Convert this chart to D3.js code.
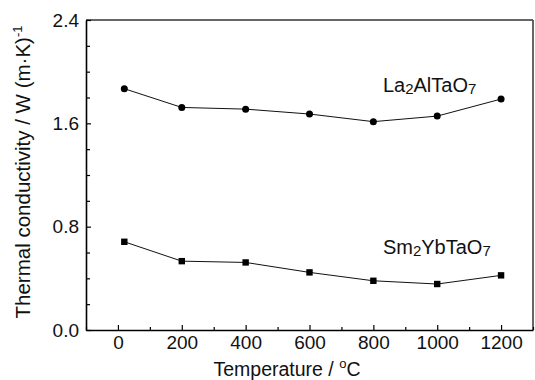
<!DOCTYPE html>
<html>
<head>
<meta charset="utf-8">
<script src="https://cdn.jsdelivr.net/npm/d3@7"></script>
<style>
    body { margin: 0; background: #fff; }
    text { font-family: "Liberation Sans", Arial, sans-serif; fill: #111; }
</style>
</head>
<body>
<script>
// temperatures (deg C) and thermal conductivity of the two ceramics
var temps = [20, 200, 400, 600, 800, 1000, 1200];
var la2AlTaO7 = [1.868, 1.723, 1.710, 1.672, 1.613, 1.656, 1.788];
var sm2YbTaO7 = [0.683, 0.533, 0.523, 0.446, 0.381, 0.356, 0.423];
var xTicks = [0, 200, 400, 600, 800, 1000, 1200];
var yTicks = [0.0, 0.8, 1.6, 2.4];

// plot box
var margin = {top: 20, right: 2, bottom: 50, left: 86},
    width = 535 - margin.left - margin.right,
    height = 380 - margin.top - margin.bottom;

var svg = d3.select("body").append("svg")
    .attr("width", 535)
    .attr("height", 380);

var g = svg.append("g")
    .attr("transform", "translate(" + margin.left + "," + margin.top + ")");

var xScale = d3.scaleLinear().domain([-100, 1300]).range([0, width]);
var yScale = d3.scaleLinear().domain([0, 2.4]).range([height, 0]);

// frame: top and right lines
g.append("line")
    .attr("x1", 0).attr("x2", width)
    .attr("y1", 0).attr("y2", 0)
    .attr("stroke", "#333").attr("stroke-width", 1.5);
g.append("line")
    .attr("x1", width).attr("x2", width)
    .attr("y1", 0).attr("y2", height)
    .attr("stroke", "#333").attr("stroke-width", 1.5);

// minor ticks (inward), no labels
var xAxisMinor = d3.axisBottom(xScale)
    .tickValues(d3.range(-100, 1301, 200))
    .tickSize(-3).tickFormat("");
var yAxisMinor = d3.axisLeft(yScale)
    .tickValues([0.2, 0.4, 0.6, 1.0, 1.2, 1.4, 1.8, 2.0, 2.2])
    .tickSize(-4).tickFormat("");

g.append("g")
    .attr("transform", "translate(0," + height + ")")
    .call(xAxisMinor)
    .call(function(s) { s.select(".domain").remove(); });
g.append("g")
    .call(yAxisMinor)
    .call(function(s) { s.select(".domain").remove(); });

// major ticks with labels
var yAxis = d3.axisLeft(yScale)
    .tickValues(yTicks)
    .tickSizeInner(-5).tickSizeOuter(0)
    .tickPadding(7)
    .tickFormat(d3.format(".1f"));
var xAxis = d3.axisBottom(xScale)
    .tickValues(xTicks)
    .tickSizeInner(-5).tickSizeOuter(0)
    .tickPadding(6)
    .tickFormat(d3.format("d"));

var gx = g.append("g")
    .attr("transform", "translate(0," + height + ")")
    .call(xAxis);
var gy = g.append("g")
    .call(yAxis);

[gx, gy].forEach(function(a) {
    a.select(".domain").attr("stroke", "#000").attr("stroke-width", 1.6);
    a.selectAll("text")
        .attr("font-size", "19px")
        .attr("font-family", "Liberation Sans, Arial, sans-serif")
        .attr("fill", "#111");
});
g.selectAll(".tick line").attr("stroke", "#000").attr("stroke-width", 1.2);

// lines and markers
var line = d3.line()
    .x(function(d, i) { return xScale(temps[i]); })
    .y(function(d) { return yScale(d); });

[la2AlTaO7, sm2YbTaO7].forEach(function(series) {
    g.append("path")
        .datum(series)
        .attr("d", line)
        .attr("fill", "none")
        .attr("stroke", "#111")
        .attr("stroke-width", 1);
});

g.selectAll("circle")
    .data(la2AlTaO7)
    .enter()
    .append("circle")
    .attr("cx", function(d, i) { return xScale(temps[i]); })
    .attr("cy", function(d) { return yScale(d); })
    .attr("r", 3.5)
    .attr("fill", "#000");

g.selectAll("rect.sq")
    .data(sm2YbTaO7)
    .enter()
    .append("rect")
    .attr("class", "sq")
    .attr("x", function(d, i) { return xScale(temps[i]) - 3.2; })
    .attr("y", function(d) { return yScale(d) - 3.2; })
    .attr("width", 6.4)
    .attr("height", 6.4)
    .attr("fill", "#000");

// series labels with subscripts
function formula(parts, x, y) {
    var t = g.append("text")
        .attr("x", x).attr("y", y)
        .attr("font-size", "20px");
    parts.forEach(function(p) {
        if (p.sub) {
            t.append("tspan").attr("font-size", "15px").attr("dy", 2).text(p.s);
        } else {
            t.append("tspan").attr("dy", p.after ? -2 : 0).text(p.s);
        }
    });
}
formula([{s: "La"}, {s: "2", sub: true}, {s: "AlTaO", after: true},
    {s: "7", sub: true}], xScale(830), yScale(1.839));
formula([{s: "Sm"}, {s: "2", sub: true}, {s: "YbTaO", after: true},
    {s: "7", sub: true}], xScale(830), yScale(0.586));

// axis titles
var xt = svg.append("text")
    .attr("x", 287)
    .attr("y", 376)
    .attr("text-anchor", "middle")
    .attr("font-size", "19.5px");
xt.append("tspan").text("Temperature / ");
xt.append("tspan").attr("font-size", "13px").attr("dy", -8).text("o");
xt.append("tspan").attr("dy", 8).text("C");

var yt = svg.append("text")
    .attr("transform", "translate(30,172) rotate(-90)")
    .attr("text-anchor", "middle")
    .attr("font-size", "20.5px");
yt.append("tspan").text("Thermal conductivity / W (m\u00b7K)");
yt.append("tspan").attr("font-size", "13px").attr("dy", -8).text("-1");
</script>
</body>
</html>
